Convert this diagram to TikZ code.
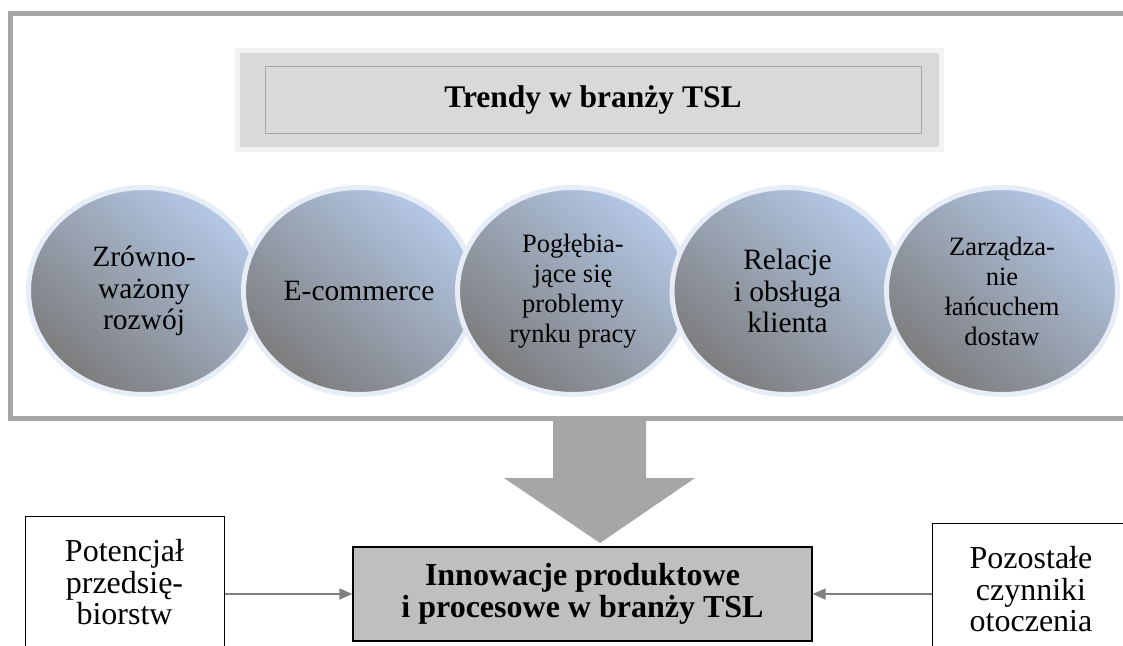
\documentclass[tikz,border=0pt]{standalone}
\usepackage{fontspec}
\setmainfont{Liberation Serif}
\usetikzlibrary{shapes.geometric,arrows.meta}

\definecolor{frameGray}{HTML}{A6A6A6}
\definecolor{titleFill}{HTML}{D9D9D9}
\definecolor{titleRim}{HTML}{F2F2F2}
\definecolor{trendBlue}{HTML}{B4C8E6}
\definecolor{trendGray}{HTML}{7C7C7C}
\definecolor{trendRim}{HTML}{E6EDF7}
\definecolor{resultFill}{HTML}{BFBFBF}
\definecolor{connGray}{HTML}{808080}

\tikzset{every picture/.style={line width=0.75pt}}
\tikzset{
  trend/.style={ellipse, minimum width=231pt, minimum height=207pt, inner sep=0pt,
    draw=trendRim, line width=5pt, top color=trendBlue, bottom color=trendGray,
    shading angle=-40, align=center, font=\fontsize{29.5}{31.5}\selectfont},
  dense/.style={font=\fontsize{26.5}{30}\selectfont},
  sidebox/.style={draw=black, fill=white, line width=1pt, inner sep=0pt,
    align=center, font=\fontsize{32}{31.5}\selectfont},
  result/.style={draw=black, fill=resultFill, line width=1.3pt, inner sep=0pt,
    minimum width=459pt, minimum height=94pt, align=center,
    font=\bfseries\fontsize{32}{32}\selectfont},
  conn/.style={draw=connGray, line width=1.8pt, -{Triangle[length=13pt,width=11pt]}}
}

\begin{document}
\begin{tikzpicture}[x=1pt,y=1pt,yscale=-1]
    \useasboundingbox (0,0) rectangle (1123,645);
    \clip (0,0) rectangle (1123,645);

    %Shape: Frame
    \draw [frameGray, line width=5pt] (10,13.5) rectangle (1140,418);

    %Shape: Title box
    \node [draw=titleRim, fill=titleFill, line width=5pt, minimum width=704pt,
      minimum height=99pt, inner sep=0pt] (titlebox) at (589.5,100) {};
    \node [draw=frameGray, line width=1pt, minimum width=656pt, minimum height=67pt,
      inner sep=0pt, font=\bfseries\fontsize{31.5}{34}\selectfont] (title)
      at (593,99.5) {Trendy w branży TSL};

    % Trend circles
    \node [trend] (sustain) at (144,291) {Zrówno-\\ważony\\rozwój};
    \node [trend] (ecom) at (359,291) {E-commerce};
    \node [trend, dense] (labour) at (573,291) {Pogłębia-\\jące się\\problemy\\rynku pracy};
    \node [trend] (client) at (787.5,291) {Relacje\\i obsługa\\klienta};
    \node [trend, dense] (supply) at (1002,291) {Zarządza-\\nie\\łańcuchem\\dostaw};

    %Shape: Block arrow
    \fill [frameGray] (553,421) -- (553,478) -- (504,478) -- (600,543) -- (695,478)
      -- (646,478) -- (646,421) -- cycle;

    % Result box
    \node [result] (innov) at (582.5,594) {Innowacje produktowe\\i procesowe w branży TSL};

    % Side boxes
    \node [sidebox, minimum width=199pt, minimum height=132pt, anchor=north] (potential)
      at (124.5,516) {Potencjał\\przedsię-\\biorstw};
    \node [sidebox, minimum width=198pt, minimum height=132pt, anchor=north] (others)
      at (1031,523) {Pozostałe\\czynniki\\otoczenia};

    %Straight Lines
    \draw [conn] (potential.east |- innov.west) -- (innov.west);
    \draw [conn] (others.west |- innov.east) -- (innov.east);

\end{tikzpicture}
\end{document}
